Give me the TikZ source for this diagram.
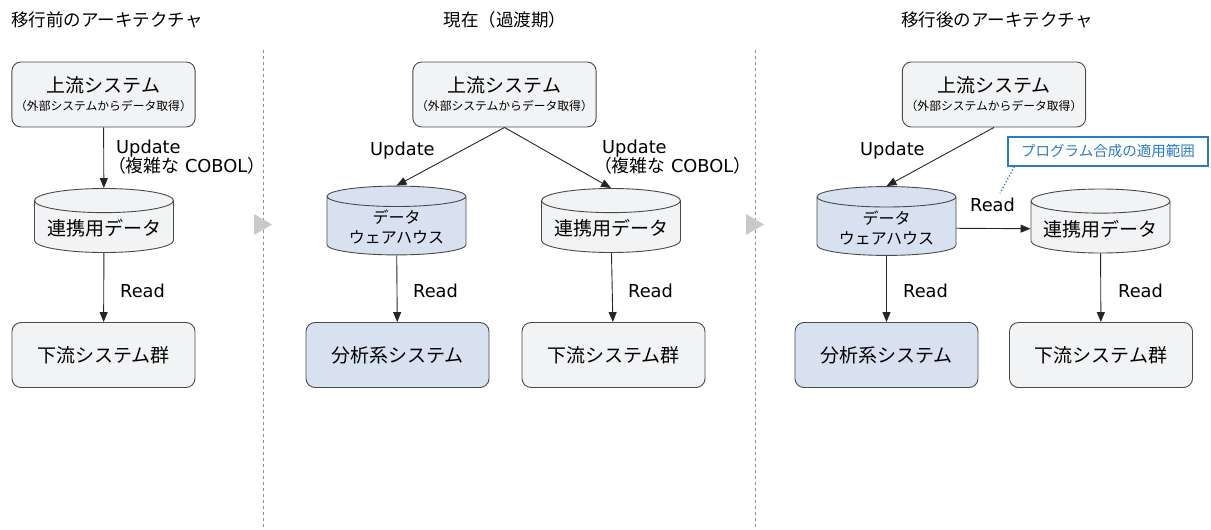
\documentclass[tikz,border=0pt]{standalone}
\usepackage{fontspec}
\setmainfont{Noto Sans CJK JP}
\newfontfamily\jpfont{Noto Sans CJK JP}
\newfontfamily\latinfont{DejaVu Sans}
\usepackage{xcolor}
\usepackage{tikz}
\usetikzlibrary{positioning,shapes.geometric,arrows.meta}
\definecolor{boxgray}{HTML}{F2F3F5}
\definecolor{boxblue}{HTML}{D8E1F0}
\definecolor{linegray}{HTML}{4A4A4A}
\definecolor{callblue}{HTML}{2C7CC4}
\definecolor{sepgray}{HTML}{8E8E8E}
\definecolor{trigray}{HTML}{C8C9CB}
\newcommand{\subsize}{\fontsize{11.8}{13}\selectfont}
\newcommand{\cobolline}{\hspace*{-0.45em}{\jpfont（複雑な} COBOL{\jpfont）}}

\begin{document}
\begin{tikzpicture}[x=1pt, y=-1pt,
  sysbox/.style={draw=linegray, line width=0.9pt, fill=boxgray, rounded corners=9pt,
    minimum width=183pt, minimum height=65pt, align=center, font=\fontsize{19}{21}\selectfont},
  dbbox/.style={cylinder, shape border rotate=90, aspect=0.2, draw=linegray, line width=0.9pt,
    fill=boxgray, minimum width=139pt, minimum height=64pt, anchor=shape center,
    align=center, font=\fontsize{19}{21}\selectfont},
  flow/.style={-{Triangle[length=10pt,width=8pt]}, draw=black!85, line width=0.9pt},
  lbl/.style={font=\latinfont\fontsize{17.8}{19}\selectfont, align=left, anchor=west, inner sep=0pt},
  title/.style={font=\fontsize{17.5}{19}\selectfont, inner sep=0pt},
  sepline/.style={draw=sepgray, line width=0.8pt, dash pattern=on 3pt off 3pt}]
\useasboundingbox (0,0) rectangle (1211,530);

% Titles and separators
\node[title] (t1) at (107,20) {移行前のアーキテクチャ};
\node[title] (t2) at (505,20) {現在（過渡期）};
\node[title] (t3) at (997,20) {移行後のアーキテクチャ};
\coordinate (s1top) at (263,50);
\coordinate (s1bot) at (263,530);
\coordinate (s2top) at (755,50);
\coordinate (s2bot) at (755,530);
\draw[sepline] (s1top) -- (s1bot);
\draw[sepline] (s2top) -- (s2bot);
\fill[trigray] (254,214) -- (272,224.5) -- (254,235) -- cycle;
\fill[trigray] (746,214) -- (764,224.5) -- (746,235) -- cycle;

% Before
\node[sysbox] (up1) at (103.5,94.5) {上流システム\\[-3pt]{\subsize（外部システムからデータ取得）}};
\node[dbbox] (dc1) at (104,220.5) {連携用データ};
\node[sysbox] (dn1) at (103.5,355) {下流システム群};
\draw[flow] (up1) -- (dc1);
\draw[flow] (dc1) -- (dn1);
\node[lbl] (u1) at (116,157) {Update\\\cobolline};
\node[lbl] (r1) at (120,291) {Read};

% Transition
\node[sysbox] (up2) at (504.5,94.5) {上流システム\\[-3pt]{\subsize（外部システムからデータ取得）}};
\node[dbbox, fill=boxblue, font=\fontsize{16}{20}\selectfont] (dw2) at (396.5,220.5) {データ\\ウェアハウス};
\node[dbbox] (dc2) at (611,220.5) {連携用データ};
\node[sysbox, fill=boxblue] (an2) at (397.5,355) {分析系システム};
\node[sysbox] (dn2) at (613.5,355) {下流システム群};
\draw[flow] (up2.south) -- (dw2.north);
\draw[flow] (up2.south) -- (dc2.north);
\draw[flow] (dw2) -- (an2);
\draw[flow] (dc2) -- (dn2);
\node[lbl] (u2a) at (370,151) {Update};
\node[lbl] (u2b) at (602,157) {Update\\\cobolline};
\node[lbl] (r2a) at (413,291) {Read};
\node[lbl] (r2b) at (628,291) {Read};

% After
\node[sysbox] (up3) at (994,94.5) {上流システム\\[-3pt]{\subsize（外部システムからデータ取得）}};
\node[dbbox, fill=boxblue, font=\fontsize{16}{20}\selectfont] (dw3) at (886.5,221) {データ\\ウェアハウス};
\node[dbbox] (dc3) at (1100.5,221) {連携用データ};
\node[sysbox, fill=boxblue] (an3) at (886.5,355) {分析系システム};
\node[sysbox] (dn3) at (1101,355) {下流システム群};
\draw[flow] (up3.south) -- (dw3.north);
\draw[flow] (dw3) -- (dc3);
\draw[flow] (dw3) -- (an3);
\draw[flow] (dc3) -- (dn3);
\node[lbl] (u3) at (860,151) {Update};
\node[lbl] (r3h) at (970,205) {Read};
\node[lbl] (r3a) at (903,291) {Read};
\node[lbl] (r3b) at (1118,291) {Read};
\node[draw=callblue, line width=1.2pt, fill=white, text=callblue, minimum width=200pt,
  minimum height=29pt, font=\fontsize{14.5}{16}\selectfont] (scope) at (1108,151.5) {プログラム合成の適用範囲};
\coordinate (readpt) at (1000,193);
\draw[callblue, line width=1.3pt, dotted] ([xshift=7pt]scope.south west) -- (readpt);
\end{tikzpicture}
\end{document}
